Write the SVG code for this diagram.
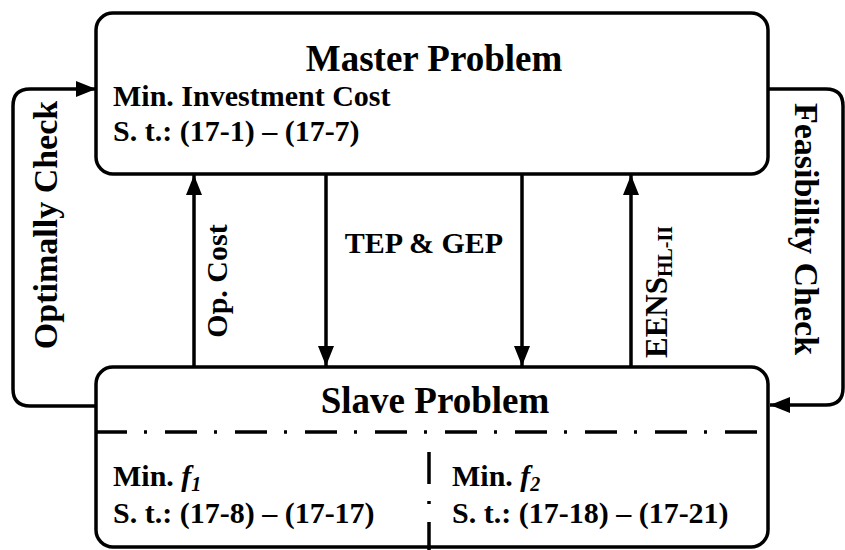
<svg xmlns="http://www.w3.org/2000/svg" width="845" height="550" viewBox="0 0 845 550">
  <defs>
    <marker id="ah" viewBox="0 0 20 16" refX="20" refY="8" markerWidth="20" markerHeight="16" markerUnits="userSpaceOnUse" orient="auto">
      <path d="M0,0 L20,8 L0,16 Z" fill="#000"/>
    </marker>
    <style>
      .box{fill:#fff;stroke:#000;stroke-width:3.5}
      .ln{fill:none;stroke:#000;stroke-width:3.5}
      .dd{fill:none;stroke:#000;stroke-width:3.5;stroke-dasharray:32 17 3 18}
      text{font-family:"Liberation Serif","Times New Roman",serif;font-weight:bold;fill:#000}
      .t{font-size:37px}
      .b{font-size:30px}
      .side{font-size:34px}
      .s{font-size:20px}
      .i{font-style:italic}
    </style>
  </defs>
  <rect width="845" height="550" fill="#fff"/>
  <g id="connectors">
    <path class="ln" d="M96,406 H30 Q13,406 13,389 V106 Q13,89 30,89 H96" marker-end="url(#ah)"/>
    <path class="ln" d="M768,89 H826 Q843,89 843,106 V388 Q843,405 826,405 H770" marker-end="url(#ah)"/>
    <line class="ln" x1="194" y1="367" x2="194" y2="175" marker-end="url(#ah)"/>
    <line class="ln" x1="326" y1="174" x2="326" y2="366" marker-end="url(#ah)"/>
    <line class="ln" x1="522" y1="174" x2="522" y2="366" marker-end="url(#ah)"/>
    <line class="ln" x1="631" y1="367" x2="631" y2="175" marker-end="url(#ah)"/>
    <text class="side" transform="translate(57,225) rotate(-90)" text-anchor="middle">Optimally Check</text>
    <text class="side" transform="translate(795,229) rotate(90)" text-anchor="middle">Feasibility Check</text>
    <text class="b" transform="translate(227,281) rotate(-90)" text-anchor="middle">Op. Cost</text>
    <text class="b" x="424" y="253" text-anchor="middle">TEP &amp; GEP</text>
    <text class="b" transform="translate(667,292) rotate(-90)" text-anchor="middle" style="font-size:31px">EENS<tspan class="s" dy="5">HL-II</tspan></text>
  </g>
  <g id="master">
    <rect class="box" x="96" y="13" width="672" height="161" rx="17"/>
    <text class="t" x="434" y="71" text-anchor="middle">Master Problem</text>
    <text class="b" x="113" y="106">Min. Investment Cost</text>
    <text class="b" x="113" y="141">S. t.: (17-1) – (17-7)</text>
  </g>
  <g id="slave">
    <rect class="box" x="96" y="367" width="672" height="180" rx="17"/>
    <text class="t" x="435" y="413" text-anchor="middle">Slave Problem</text>
    <line class="dd" x1="95" y1="432" x2="768" y2="432"/>
    <line class="dd" x1="429" y1="452" x2="429" y2="550"/>
    <text class="b" x="113" y="486">Min. <tspan class="i">f</tspan><tspan class="s i" dy="5">1</tspan></text>
    <text class="b" x="113" y="523">S. t.: (17-8) – (17-17)</text>
    <text class="b" x="452" y="486">Min. <tspan class="i">f</tspan><tspan class="s i" dy="5">2</tspan></text>
    <text class="b" x="452" y="523">S. t.: (17-18) – (17-21)</text>
  </g>
</svg>
